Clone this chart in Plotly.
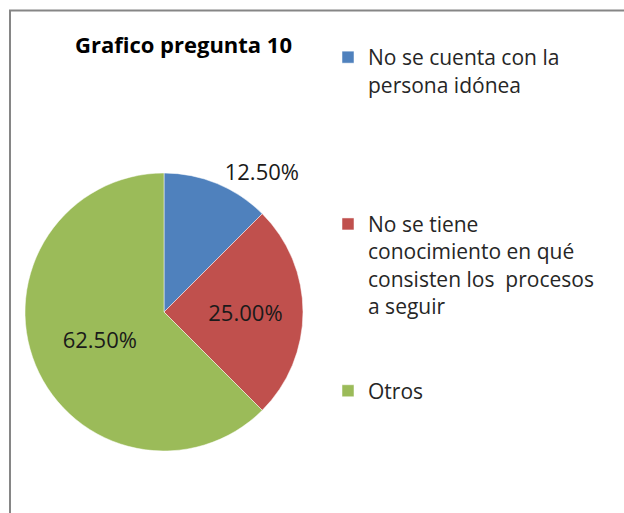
import plotly.graph_objects as go

W, H = 624, 513

labels = [
    "No se cuenta con la<br>persona idónea<br><br><br><br>",
    "No se tiene<br>conocimiento en qué<br>consisten los  procesos<br>a seguir<br><br>",
    "Otros",
]
values = [12.5, 25.0, 62.5]
colors = ["#4F81BD", "#C0504D", "#9BBB59"]
text_positions = ["outside", "inside", "inside"]
title_text = "<b>Grafico pregunta 10</b>"

FONT = "Open Sans"

fig = go.Figure(
    go.Pie(
        labels=labels,
        values=values,
        sort=False,
        direction="clockwise",
        rotation=0,
        marker=dict(colors=colors, line=dict(color="white", width=0.5)),
        texttemplate="%{percent:.2%}",
        textposition=text_positions,
        insidetextorientation="horizontal",
        textfont=dict(family=FONT, size=22, color="#1a1a1a"),
        domain=dict(x=[25 / W, 303 / W], y=[(H - 451) / H, (H - 173) / H]),
        hoverinfo="label+percent",
    )
)

fig.update_layout(
    width=W,
    height=H,
    margin=dict(l=0, r=0, t=0, b=0),
    paper_bgcolor="white",
    plot_bgcolor="white",
    showlegend=True,
    title=dict(
        text=title_text,
        x=183.5 / W,
        xanchor="center",
        y=1 - 45 / H,
        yanchor="middle",
        font=dict(family=FONT, size=22, color="#000000"),
    ),
    legend=dict(
        x=328 / W,
        xanchor="left",
        y=1 - 37 / H,
        yanchor="top",
        valign="top",
        font=dict(family=FONT, size=21, color="#262626"),
        bgcolor="rgba(0,0,0,0)",
    ),
    shapes=[
        dict(
            type="rect",
            xref="paper",
            yref="paper",
            x0=10 / W,
            x1=1.05,
            y0=-0.05,
            y1=1 - 10.5 / H,
            line=dict(color="#868686", width=2),
            fillcolor="rgba(0,0,0,0)",
            layer="above",
        )
    ],
)

fig.write_html(
    "out.html",
    config={"displayModeBar": False},
    post_script="document.body.style.margin='0';document.body.style.overflow='hidden';",
)
